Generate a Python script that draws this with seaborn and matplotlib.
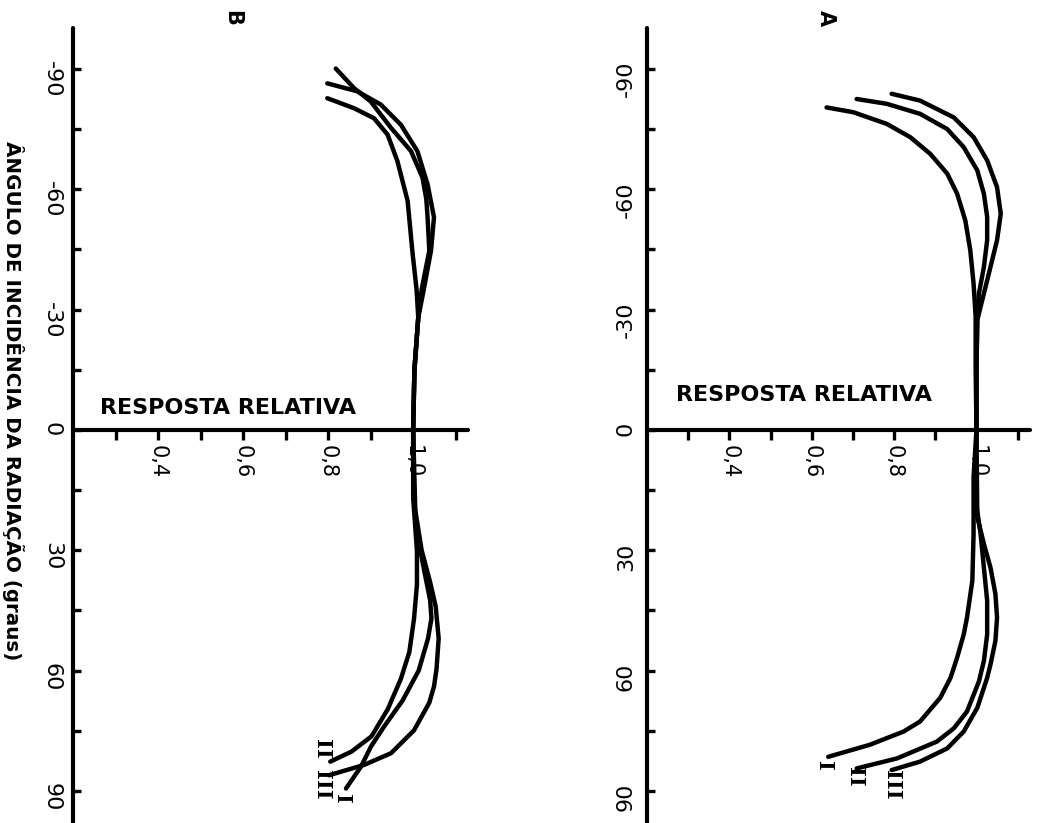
import matplotlib
matplotlib.use("Agg")
import matplotlib.pyplot as plt
import pandas as pd
import seaborn as sns
from matplotlib.ticker import FixedLocator, FixedFormatter

# ---------------- data ----------------
# Panel A : angle (degrees) and relative response for curves I, II, III
A_I_ang = [-80.4, -79.2, -76.3, -73.0, -68.8, -63.9, -58.9, -52.2, -44.8, -36.5, -28.2, -15.7, 0,
           11.7, 25.9, 37.6, 46.8, 51.0, 56.8, 61.8, 66.8, 72.7, 75.2, 78.5, 81.5]
A_I_resp = [0.636, 0.701, 0.782, 0.839, 0.888, 0.929, 0.953, 0.973, 0.985, 0.993, 0.998, 0.998, 1.0,
            0.993, 0.993, 0.990, 0.977, 0.969, 0.953, 0.937, 0.912, 0.863, 0.823, 0.741, 0.640]

A_II_ang = [-82.5, -81.3, -78.8, -75.0, -70.5, -64.7, -58.9, -53.1, -47.3, -40.6, -34.0, -28.2, -15, 0,
            17.5, 25.9, 34.3, 42.6, 51.0, 57.6, 62.7, 70.2, 74.4, 77.7, 81.9, 84.4]
A_II_resp = [0.709, 0.782, 0.863, 0.929, 0.969, 1.002, 1.018, 1.026, 1.026, 1.018, 1.006, 1.002, 1.0, 1.0,
             0.998, 1.010, 1.018, 1.026, 1.026, 1.018, 1.006, 0.977, 0.945, 0.904, 0.807, 0.709]

A_III_ang = [-83.8, -82.1, -77.9, -73.0, -67.2, -60.5, -53.9, -47.3, -40.6, -34.0, -27.4, -15, 0,
             21.7, 28.4, 34.3, 40.9, 46.8, 52.6, 58.5, 61.8, 69.3, 75.2, 79.4, 82.7, 84.8]
A_III_resp = [0.794, 0.863, 0.945, 0.993, 1.026, 1.050, 1.059, 1.050, 1.034, 1.018, 1.002, 1.0, 1.0,
              1.002, 1.018, 1.034, 1.046, 1.050, 1.046, 1.034, 1.026, 1.002, 0.969, 0.929, 0.863, 0.794]

# Panel B
B_I_ang = [-90.1, -85.2, -81.9, -75.3, -69.5, -62.9, -57.5, -52.9, -44.7, -35, -28, -15, 0,
           17, 25.5, 34, 42.5, 47, 52, 60, 67.5, 73.9, 78.9, 84.0, 89.4]
B_I_resp = [0.818, 0.861, 0.900, 0.948, 0.995, 1.022, 1.031, 1.034, 1.038, 1.020, 1.012, 1.003, 1.0,
            1.002, 1.009, 1.024, 1.040, 1.043, 1.035, 1.013, 0.975, 0.932, 0.901, 0.877, 0.842]

B_II_ang = [-82.7, -80.2, -77.7, -73.6, -67.0, -57.1, -44.7, -35, -28, -15, 0,
            17, 30.2, 38.5, 47.1, 55.4, 62.1, 69.7, 76.4, 80.2, 82.7]
B_II_resp = [0.798, 0.861, 0.908, 0.940, 0.963, 0.987, 0.998, 1.008, 1.012, 1.003, 1.0,
             1.0, 1.009, 1.009, 1.002, 0.991, 0.971, 0.940, 0.902, 0.855, 0.805]

B_III_ang = [-86.4, -84.4, -81.1, -76.1, -69.5, -61.2, -53, -44.7, -35, -28, -15, 0,
             20, 30, 38, 44, 52, 59.6, 64, 68, 74.9, 80.6, 83.5, 86.1]
B_III_resp = [0.798, 0.869, 0.924, 0.971, 1.010, 1.034, 1.049, 1.042, 1.025, 1.012, 1.003, 1.0,
              1.005, 1.020, 1.040, 1.053, 1.060, 1.055, 1.049, 1.038, 1.002, 0.948, 0.885, 0.802]

ang_major = [-90, -60, -30, 0, 30, 60, 90]
ang_labels = ["-90", "-60", "-30", "0", "30", "60", "90"]
ang_minor = [-75, -45, -15, 15, 45, 75]
resp_major = [0.4, 0.6, 0.8, 1.0]
resp_labels = ["0,4", "0,6", "0,8", "1,0"]
resp_minor = [0.3, 0.5, 0.7, 0.9, 1.1]

curve_names = ["I", "II", "III"]
# label anchor positions (response, angle) for the roman numerals
A_lab_resp = [0.629, 0.706, 0.796]
A_lab_ang = [83.8, 86.5, 88.5]
B_lab_resp = [0.833, 0.786, 0.786]
B_lab_ang = [92.0, 79.4, 88.4]

# ---------------- figure ----------------
sns.set_theme(style="white")
plt.rcParams['font.family'] = ['DejaVu Sans']
plt.rcParams['axes.unicode_minus'] = False

W, H = 1052, 823
fig = plt.figure(figsize=(W / 100, H / 100), dpi=100)
fig.patch.set_facecolor("white")


def px_axes(x0, y0, x1, y1):
    return fig.add_axes([x0 / W, 1 - y1 / H, (x1 - x0) / W, (y1 - y0) / H])


def draw_curve(ax, ang, resp):
    df = pd.DataFrame({"resp": resp, "ang": ang})
    sns.lineplot(data=df, x="resp", y="ang", sort=False, estimator=None,
                 color="black", lw=3.2, ax=ax, solid_capstyle="round",
                 solid_joinstyle="round")


def style_axes(ax, xmax, ang_rot):
    ax.set_facecolor("white")
    ax.set_xlim(0.2, xmax)
    ax.set_ylim(98, -100.2)
    for s in ["top", "right"]:
        ax.spines[s].set_visible(False)
    ax.spines["bottom"].set_position(("data", 0))
    for s in ["left", "bottom"]:
        ax.spines[s].set_color("black")
        ax.spines[s].set_linewidth(3.0)
        ax.spines[s].set_capstyle("round")
    ax.yaxis.set_major_locator(FixedLocator(ang_major))
    ax.yaxis.set_major_formatter(FixedFormatter(ang_labels))
    ax.yaxis.set_minor_locator(FixedLocator(ang_minor))
    ax.xaxis.set_major_locator(FixedLocator(resp_major))
    ax.xaxis.set_major_formatter(FixedFormatter(resp_labels))
    ax.xaxis.set_minor_locator(FixedLocator(resp_minor))
    ax.tick_params(axis="y", which="both", direction="in", length=6, width=2.4,
                   color="black", left=True, right=False, pad=8, labelsize=16,
                   labelrotation=ang_rot, labelcolor="black")
    ax.tick_params(axis="x", which="both", direction="out", length=7, width=2.4,
                   color="black", bottom=True, top=False, pad=4, labelsize=15,
                   labelrotation=270, labelcolor="black")
    ax.set_xlabel("")
    ax.set_ylabel("")
    ax.grid(False)


axB = px_axes(73, 28, 468, 823)
axA = px_axes(647, 28, 1030, 823)

for ang, resp in [(B_I_ang, B_I_resp), (B_II_ang, B_II_resp), (B_III_ang, B_III_resp)]:
    draw_curve(axB, ang, resp)
for ang, resp in [(A_I_ang, A_I_resp), (A_II_ang, A_II_resp), (A_III_ang, A_III_resp)]:
    draw_curve(axA, ang, resp)

style_axes(axB, 1.129, 270)
style_axes(axA, 1.13, 90)

for name, r, a in zip(curve_names, B_lab_resp, B_lab_ang):
    axB.text(r, a, name, rotation=270, ha="center", va="center", fontsize=15,
             fontweight="bold", family=["DejaVu Serif"], color="black", clip_on=False)
for name, r, a in zip(curve_names, A_lab_resp, A_lab_ang):
    axA.text(r, a, name, rotation=270, ha="center", va="center", fontsize=15,
             fontweight="bold", family=["DejaVu Serif"], color="black", clip_on=False)

# titles / annotations
fig.text(228.5 / W, 1 - 408 / H, "RESPOSTA RELATIVA", ha="center", va="center",
         fontsize=16, fontweight="bold", color="black")
fig.text(804 / W, 1 - 395 / H, "RESPOSTA RELATIVA", ha="center", va="center",
         fontsize=16, fontweight="bold", color="black")
fig.text(13 / W, 1 - 401 / H, "ÂNGULO DE INCIDÊNCIA DA RADIAÇÃO (graus)", rotation=270,
         ha="center", va="center", fontsize=14.3, fontweight="bold", color="black")
fig.text(232 / W, 1 - 18 / H, "B", rotation=270, ha="center", va="center",
         fontsize=15, fontweight="bold", color="black")
fig.text(826 / W, 1 - 18 / H, "A", rotation=270, ha="center", va="center",
         fontsize=15, fontweight="bold", color="black")

fig.savefig("out.png", dpi=100, facecolor="white")
